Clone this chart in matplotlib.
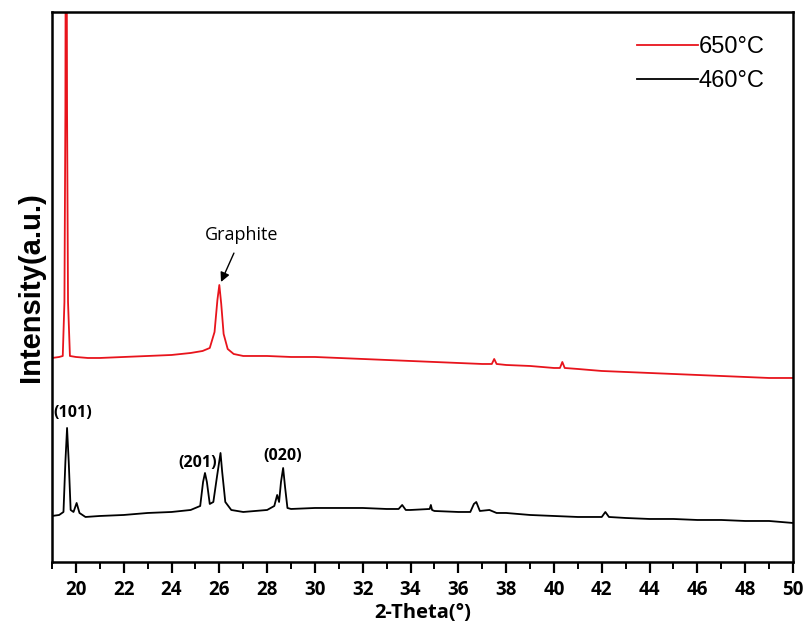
import matplotlib
matplotlib.use("Agg")
import matplotlib.pyplot as plt
from matplotlib.ticker import MultipleLocator

# 650 C sample (red)
theta_650 = [19.0, 19.3, 19.45, 19.52, 19.56, 19.59, 19.63, 19.67, 19.75, 20.0, 20.5,
             21, 22, 23, 24, 24.8, 25.3, 25.6, 25.8, 25.92, 26.0, 26.08, 26.18, 26.35,
             26.6, 27, 28, 29, 30, 31, 32, 33, 34, 35, 36, 37, 37.4, 37.5, 37.6, 38,
             39, 40, 40.25, 40.35, 40.45, 41, 42, 43, 44, 45, 46, 47, 48, 49, 50]
int_650 = [204, 205, 206, 260, 450, 900, 450, 260, 206, 205, 204,
           204, 205, 206, 207, 209, 211, 214, 230, 262, 277, 258, 228, 213,
           208, 206, 206, 205, 205, 204, 203, 202, 201, 200, 199, 198, 198, 203, 198, 197,
           196, 194, 194, 200, 194, 193, 191, 190, 189, 188, 187, 186, 185, 184, 184]

# 460 C sample (black)
theta_460 = [19.0, 19.3, 19.48, 19.56, 19.63, 19.7, 19.78, 19.9, 20.03, 20.15, 20.4,
             21, 22, 23, 24, 24.8, 25.2, 25.32, 25.4, 25.48, 25.6, 25.75, 25.9, 26.05,
             26.12, 26.25, 26.5, 27, 28, 28.3, 28.42, 28.5, 28.58, 28.67, 28.75, 28.85,
             29, 30, 31, 32, 33, 33.5, 33.65, 33.8, 34, 34.8, 34.85, 34.9, 35, 36, 36.5,
             36.65, 36.75, 36.9, 37.3, 37.6, 38, 39, 40, 41, 42, 42.15, 42.3, 43, 44,
             45, 46, 47, 48, 49, 50]
int_460 = [46, 47, 50, 100, 134, 100, 52, 50, 59, 49, 45,
           46, 47, 49, 50, 52, 56, 80, 89, 80, 58, 60, 85, 109,
           90, 60, 52, 50, 52, 56, 67, 60, 80, 94, 75, 54,
           53, 54, 54, 54, 53, 53, 57, 52, 52, 53, 57, 52, 51, 50, 50,
           58, 60, 51, 52, 49, 49, 47, 46, 45, 45, 50, 45, 44, 43,
           43, 42, 42, 41, 41, 39]

peak_labels = ["(101)", "(201)", "(020)"]
peak_pos = [(19.88, 149), (25.1, 99), (28.67, 106)]

fig = plt.figure(figsize=(8.1, 6.34), dpi=100)
ax = fig.add_axes([0.0642, 0.1136, 0.9148, 0.8675])

ax.plot(theta_650, int_650, color="#e8141c", lw=1.3, label="650°C")
ax.plot(theta_460, int_460, color="black", lw=1.3, label="460°C")

ax.set_xlim(19, 50)
ax.set_ylim(0, 550)
ax.xaxis.set_major_locator(MultipleLocator(2))
ax.xaxis.set_minor_locator(MultipleLocator(1))
ax.set_yticks([])
ax.tick_params(axis="x", which="major", direction="out", length=8, width=1.6, pad=5)
ax.tick_params(axis="x", which="minor", direction="out", length=5, width=1.4)
for lab in ax.get_xticklabels():
    lab.set_fontfamily("Open Sans")
    lab.set_fontweight("bold")
    lab.set_fontsize(13.5)
for s in ax.spines.values():
    s.set_linewidth(1.8)

ax.set_xlabel("2-Theta(°)", fontfamily="Open Sans", fontweight="bold", fontsize=14.5,
              labelpad=2)
ax.set_ylabel("Intensity(a.u.)", fontfamily="Liberation Sans", fontweight="bold",
              fontsize=21, labelpad=5)

for txt, (px, py) in zip(peak_labels, peak_pos):
    ax.text(px, py, txt, ha="center", va="center", fontfamily="Open Sans",
            fontweight="bold", fontsize=11.5)

ax.annotate("Graphite", xy=(26.07, 280), xytext=(26.95, 327), ha="center", va="center",
            fontfamily="Open Sans", fontsize=13,
            arrowprops=dict(arrowstyle="-|>", color="black", lw=1, mutation_scale=14,
                            shrinkA=5, shrinkB=0))

leg = ax.legend(loc="upper right", frameon=False, handlelength=2.6, handletextpad=0,
                prop={"family": "Liberation Sans", "size": 17},
                bbox_to_anchor=(0.99, 0.995), labelspacing=0.5)

fig.savefig("out.png", dpi=100)
